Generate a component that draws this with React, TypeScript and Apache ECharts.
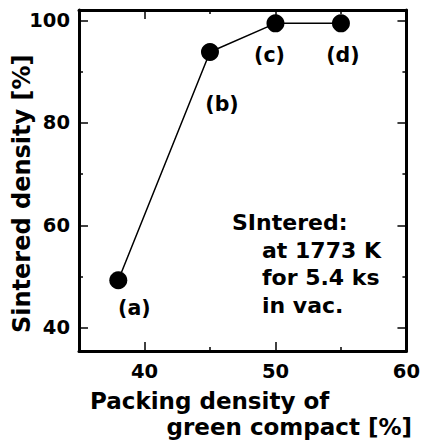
import React, { useEffect, useRef } from "react";
import * as echarts from "echarts";

const packingDensity = [38, 45, 50, 55];
const sinteredDensity = [49.3, 93.8, 99.4, 99.4];
const pointLabels = ["(a)", "(b)", "(c)", "(d)"];
const xMajorTicks = [40, 50];
const xMinorTicks = [45, 55];
const xTickLabels = [40, 50, 60];
const yMajorTicks = [40, 60, 80, 100];
const yMinorTicks = [50, 70, 90];
const yTickLabels = [40, 60, 80, 100];
const yAxisTitle = "Sintered density [%]";
const xAxisTitleLines = ["Packing density of", "green compact [%]"];
const noteLines = ["SIntered:", "at 1773 K", "for 5.4 ks", "in vac."];

const FONT = "DejaVu Sans";
const X_MIN = 35;
const X_MAX = 60;
const Y_MIN = 35.5;
const Y_MAX = 102;

export default function App() {
  const ref = useRef<HTMLDivElement>(null);
  useEffect(() => {
    if (!ref.current) return;
    const chart = echarts.init(ref.current, null, { renderer: "svg" });
    const labelOffsets = [
      [16, 28],
      [12, 52],
      [-6, 32],
      [2, 32],
    ];
    const black = "#000";
    const xUnitsPerPx = (X_MAX - X_MIN) / 328;
    const yUnitsPerPx = (Y_MAX - Y_MIN) / 341;
    const MAJOR = 9;
    const MINOR = 4;
    const INSET = 1;
    const tickLines: any[] = [];
    const addX = (v: number, px: number) => {
      const a = INSET * yUnitsPerPx;
      const d = px * yUnitsPerPx;
      tickLines.push([{ coord: [v, Y_MIN + a] }, { coord: [v, Y_MIN + d] }]);
      tickLines.push([{ coord: [v, Y_MAX - a] }, { coord: [v, Y_MAX - d] }]);
    };
    const addY = (v: number, px: number) => {
      const a = INSET * xUnitsPerPx;
      const d = px * xUnitsPerPx;
      tickLines.push([{ coord: [X_MIN + a, v] }, { coord: [X_MIN + d, v] }]);
      tickLines.push([{ coord: [X_MAX - a, v] }, { coord: [X_MAX - d, v] }]);
    };
    xMajorTicks.forEach((v) => addX(v, MAJOR));
    xMinorTicks.forEach((v) => addX(v, MINOR));
    yMajorTicks.forEach((v) => addY(v, MAJOR));
    yMinorTicks.forEach((v) => addY(v, MINOR));

    const textEl = (text: string, x: number, y: number, size: number, align: string, rotation = 0) => ({
      type: "text",
      x,
      y,
      rotation,
      style: {
        text,
        fill: black,
        font: `bold ${size}px '${FONT}'`,
        textAlign: align,
        textVerticalAlign: "middle",
      },
    });
    const axisLabelStyle = { color: black, fontFamily: FONT, fontWeight: "bold", fontSize: 19.5 };
    const frameAxis = (pos: string, min: number, max: number, labels: any) => ({
      type: "value",
      position: pos,
      min,
      max,
      splitLine: { show: false },
      axisLine: { show: true, onZero: false, lineStyle: { color: black, width: 3 } },
      axisTick: { show: false },
      axisLabel: labels,
    });
    chart.setOption({
      animation: false,
      backgroundColor: "#fff",
      grid: { left: 79, right: 16, top: 10, bottom: 93 },
      xAxis: [
        frameAxis("bottom", X_MIN, X_MAX, { show: true, customValues: xTickLabels, margin: 10, ...axisLabelStyle }),
        frameAxis("top", X_MIN, X_MAX, { show: false }),
      ],
      yAxis: [
        frameAxis("left", Y_MIN, Y_MAX, { show: true, customValues: yTickLabels, margin: 9, ...axisLabelStyle }),
        frameAxis("right", Y_MIN, Y_MAX, { show: false }),
      ],
      series: [
        {
          type: "line",
          xAxisIndex: 0,
          yAxisIndex: 0,
          data: packingDensity.map((x, i) => ({
            value: [x, sinteredDensity[i]],
            label: {
              show: true,
              formatter: pointLabels[i],
              position: "inside",
              offset: labelOffsets[i],
              color: black,
              fontFamily: FONT,
              fontWeight: "bold",
              fontSize: 20.5,
            },
          })),
          symbol: "circle",
          symbolSize: 18,
          itemStyle: { color: black },
          lineStyle: { color: black, width: 1.5 },
          markLine: {
            silent: true,
            symbol: ["none", "none"],
            label: { show: false },
            lineStyle: { color: black, width: 1.5, type: "solid" },
            data: tickLines,
          },
        },
      ],
      graphic: [
        textEl(yAxisTitle, 22, 333, 24, "left", Math.PI / 2),
        textEl(xAxisTitleLines[0], 90, 401, 23, "left"),
        textEl(xAxisTitleLines[1], 412, 427, 23, "right"),
        textEl(noteLines[0], 232, 222, 22, "left"),
        textEl(noteLines[1], 262, 250, 22, "left"),
        textEl(noteLines[2], 262, 277, 22, "left"),
        textEl(noteLines[3], 262, 305, 22, "left"),
      ],
    });
    return () => chart.dispose();
  }, []);
  return <div ref={ref} style={{ width: 423, height: 444, position: "absolute", left: 0, top: 0 }} />;
}
